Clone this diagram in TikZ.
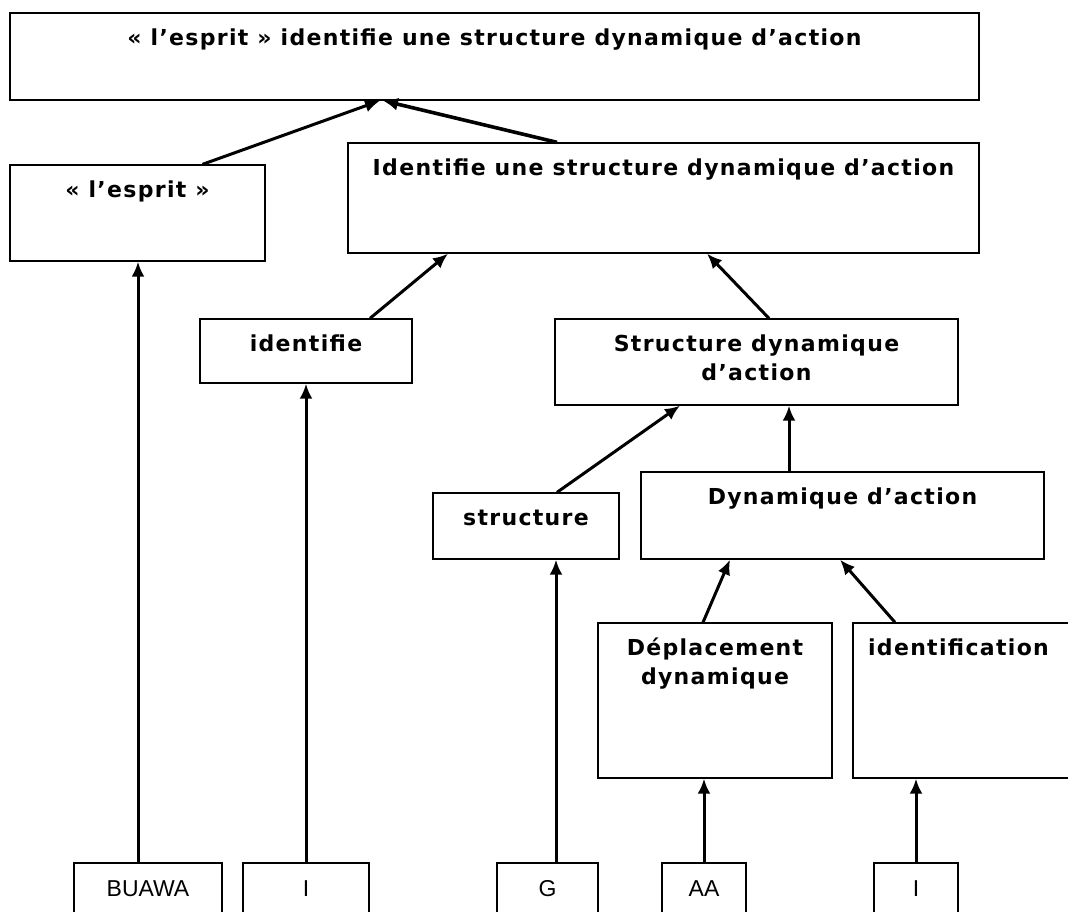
\documentclass[tikz,border=0pt]{standalone}
\usepackage{fontspec}
\newfontfamily\labelfont{DejaVu Sans}[LetterSpace=6]
\newfontfamily\wordfont{Liberation Sans}
\usetikzlibrary{arrows.meta}

\begin{document}
\begin{tikzpicture}[x=1pt, y=-1pt,
    blocknode/.style={rectangle, draw=black, line width=1.3pt, inner sep=0pt},
    textnode/.style={anchor=base, inner sep=0pt, yshift=-33pt, align=center,
                     font=\labelfont\bfseries\fontsize{22}{29.5}\selectfont},
    wordnode/.style={rectangle, draw=black, line width=1.3pt, inner sep=0pt,
                     minimum height=52pt, font=\wordfont\fontsize{23}{28}\selectfont},
    link/.style={line width=3pt, -{Latex[length=15pt,width=13pt]}}]
    \clip (0,0) rectangle (1068,912);
    % parse tree, top to bottom
    \node[blocknode, minimum width=969pt, minimum height=87pt,
          label={[textnode]north:« l’esprit » identifie une structure dynamique d’action}] (top) at (494.5,56.5) {};
    \node[blocknode, minimum width=255pt, minimum height=96pt,
          label={[textnode]north:« l’esprit »}] (esprit) at (137.5,213) {};
    \node[blocknode, minimum width=631pt, minimum height=110pt,
          label={[textnode]north:Identifie une structure dynamique d’action}] (ident) at (663.5,198) {};
    \node[blocknode, minimum width=212pt, minimum height=64pt,
          label={[textnode]north:identifie}] (identifie) at (306,351) {};
    % two-line labels sit on their last baseline
    \node[blocknode, minimum width=403pt, minimum height=86pt,
          label={[textnode, yshift=-29.5pt]north:Structure dynamique\\d’action}] (struct) at (756.5,362) {};
    \node[blocknode, minimum width=186pt, minimum height=66pt,
          label={[textnode]north:structure}] (structure) at (526,526) {};
    \node[blocknode, minimum width=403pt, minimum height=87pt,
          label={[textnode]north:Dynamique d’action}] (dyn) at (842.5,515.5) {};
    \node[blocknode, minimum width=234pt, minimum height=155pt,
          label={[textnode, yshift=-29.5pt]north:Déplacement\\dynamique}] (depl) at (715,700.5) {};
    \node[blocknode, minimum width=221pt, minimum height=155pt,
          label={[textnode, xshift=-5pt]north:identification}] (idfc) at (963.5,700.5) {};
    % words
    \node[wordnode, minimum width=148pt] (w1) at (148,889) {BUAWA};
    \node[wordnode, minimum width=126pt] (w2) at (306,889) {I};
    \node[wordnode, minimum width=101pt] (w3) at (547.5,889) {G};
    \node[wordnode, minimum width=84pt] (w4) at (704,889) {AA};
    \node[wordnode, minimum width=84pt] (w5) at (916,889) {I};
    % links
    \draw[link] ([xshift=65pt]esprit.north) -- ([xshift=-114.5pt]top.south);
    \draw[link, line width=3.6pt] ([xshift=-106.5pt]ident.north) -- ([xshift=-111.5pt]top.south);
    \draw[link] ([xshift=64pt]identifie.north) -- ([xshift=-215.5pt]ident.south);
    \draw[link] ([xshift=12.5pt]struct.north) -- ([xshift=43.5pt]ident.south);
    \draw[link] ([xshift=31pt]structure.north) -- ([xshift=-76.5pt]struct.south);
    \draw[link] ([xshift=-53.5pt]dyn.north) -- ([xshift=32.5pt]struct.south);
    \draw[link] ([xshift=-12pt]depl.north) -- ([xshift=-112.5pt]dyn.south);
    \draw[link] ([xshift=-68.5pt]idfc.north) -- ([xshift=-2.5pt]dyn.south);
    \draw[link] ([xshift=-10pt]w1.north) -- ([xshift=0.5pt]esprit.south);
    \draw[link] (w2.north) -- (identifie.south);
    \draw[link] ([xshift=8.5pt]w3.north) -- ([xshift=30pt]structure.south);
    \draw[link] (w4.north) -- ([xshift=-11pt]depl.south);
    \draw[link] (w5.north) -- ([xshift=-47.5pt]idfc.south);
\end{tikzpicture}
\end{document}
